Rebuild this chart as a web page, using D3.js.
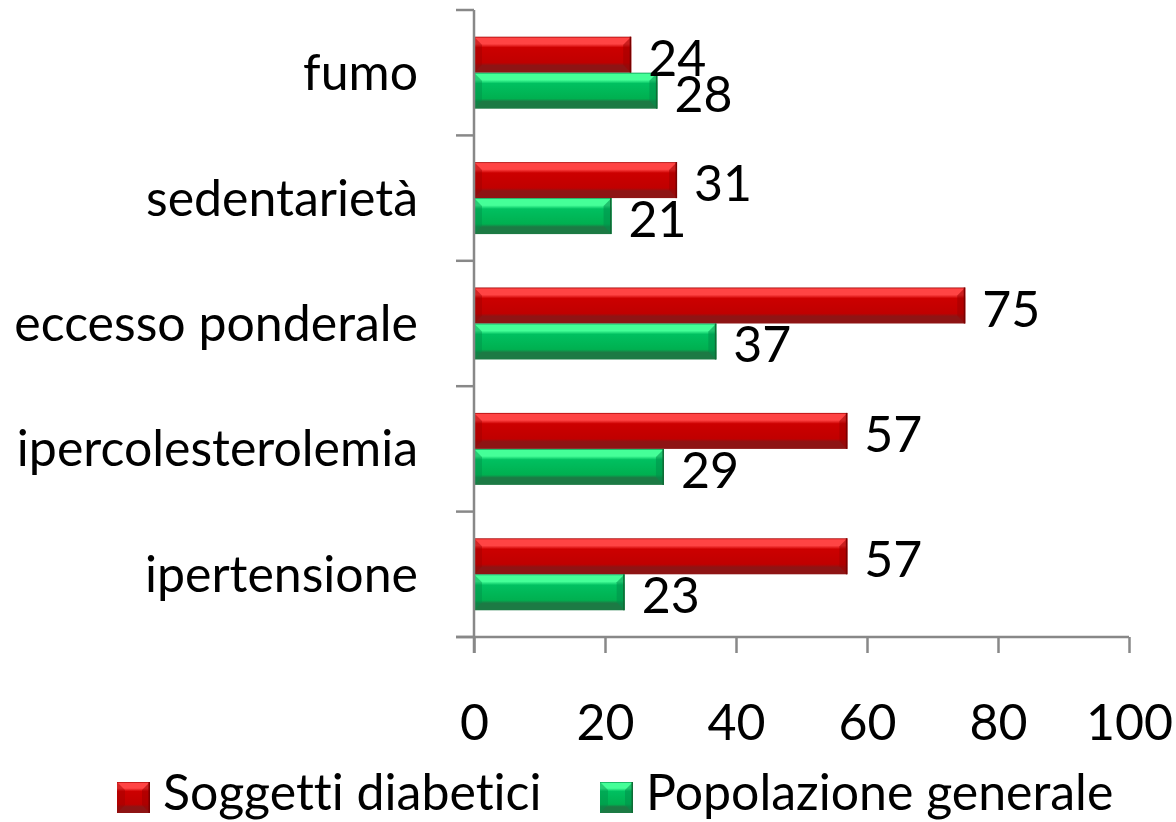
<!DOCTYPE html>
<html>
<head>
<meta charset="utf-8">
<script src="https://cdn.jsdelivr.net/npm/d3@7/dist/d3.min.js"></script>
<style>
  html, body { margin: 0; padding: 0; background: #ffffff; }
  svg { display: block; }
  text { font-family: Lato, "Noto Sans", sans-serif; fill: #000; font-variant-ligatures: none; font-feature-settings: "liga" 0; }
</style>
</head>
<body>
<svg id="chart" width="1176" height="822"></svg>
<script>
// Risk factors, top to bottom
const categories = ["fumo", "sedentarietà", "eccesso ponderale", "ipercolesterolemia", "ipertensione"];
const seriesNames = ["Soggetti diabetici", "Popolazione generale"];
const diabetici = [24, 31, 75, 57, 57];
const popolazione = [28, 21, 37, 29, 23];
const xTicks = [0, 20, 40, 60, 80, 100];

const seriesValues = [diabetici, popolazione];
const palette = [
  { top: "#ff4444", mid: "#cc0000", low: "#c00000", bottom: "#8e1414", edge: "#7a0000", dark: "#a00000" },
  { top: "#45ff98", mid: "#00c060", low: "#00b050", bottom: "#1c7a44", edge: "#0f6b35", dark: "#00904a" }
];

const svg = d3.select("#chart");
const axisColor = "#888888";
const fontSize = 50;

const x = d3.scaleLinear().domain([0, 100]).range([474, 1129]);
const y = d3.scaleBand().domain(categories).range([10, 637]).paddingInner(0.426).paddingOuter(0.213);
const ySeries = d3.scaleBand().domain(seriesNames).range([0, y.bandwidth()]);

// Vertical gradients giving the bars their bevelled look
const defs = svg.append("defs");
palette.forEach((p, i) => {
  const g = defs.append("linearGradient").attr("id", "grad" + i)
    .attr("x1", 0).attr("y1", 0).attr("x2", 0).attr("y2", 1);
  [[0, p.dark], [0.04, p.top], [0.2, p.top], [0.3, p.mid], [0.72, p.low], [0.8, p.bottom], [1, p.bottom]]
    .forEach(([o, c]) => g.append("stop").attr("offset", o).attr("stop-color", c));
});

function bevelBar(sel, x0, y0, w, h, i) {
  const p = palette[i];
  const b = Math.min(8, w / 2, h / 3);
  sel.append("rect").attr("x", x0).attr("y", y0).attr("width", w).attr("height", h)
    .attr("fill", `url(#grad${i})`);
  // right end facet
  sel.append("path")
    .attr("d", `M${x0 + w - b},${y0 + b} L${x0 + w},${y0} L${x0 + w},${y0 + h} L${x0 + w - b},${y0 + h - b} Z`)
    .attr("fill", p.dark).attr("opacity", 0.55);
  // left end facet
  sel.append("path")
    .attr("d", `M${x0},${y0} L${x0 + b},${y0 + b} L${x0 + b},${y0 + h - b} L${x0},${y0 + h} Z`)
    .attr("fill", p.dark).attr("opacity", 0.45);
  sel.append("line").attr("x1", x0 + w - 0.75).attr("x2", x0 + w - 0.75)
    .attr("y1", y0).attr("y2", y0 + h).attr("stroke", p.edge).attr("stroke-width", 1.5);
}

// Bars
const groups = svg.append("g").selectAll("g").data(categories).join("g")
  .attr("transform", d => `translate(0,${y(d)})`);

groups.each(function(cat, ci) {
  const g = d3.select(this);
  seriesNames.forEach((s, si) => {
    const v = seriesValues[si][ci];
    bevelBar(g, x(0), ySeries(s), x(v) - x(0), ySeries.bandwidth(), si);
  });
});

// Axes
const xAxis = d3.axisBottom(x).tickValues(xTicks).tickSize(16).tickPadding(51).tickSizeOuter(0);
const gx = svg.append("g").attr("transform", "translate(0,637)").call(xAxis);
gx.select(".domain").remove();
gx.append("line").attr("x1", 456).attr("x2", x(100)).attr("y1", 0).attr("y2", 0)
  .attr("stroke", axisColor).attr("stroke-width", 2.5);
gx.selectAll(".tick line").attr("stroke", axisColor).attr("stroke-width", 2.5);
gx.selectAll(".tick text").attr("font-size", fontSize).attr("dy", "0.71em")
  .style("font-family", "Lato, 'Noto Sans', sans-serif").attr("fill", "#000");

// Category axis: vertical line plus ticks at band boundaries
const boundaries = categories.map(c => y(c) - y.step() * y.paddingInner() / 2).concat([637]);
boundaries[0] = 10;
const gy = svg.append("g");
gy.append("line").attr("x1", x(0)).attr("x2", x(0)).attr("y1", 10).attr("y2", 653)
  .attr("stroke", axisColor).attr("stroke-width", 2.5);
gy.selectAll("line.t").data(boundaries).join("line").attr("class", "t")
  .attr("x1", 456).attr("x2", x(0)).attr("y1", d => d).attr("y2", d => d)
  .attr("stroke", axisColor).attr("stroke-width", 2.5);
gy.selectAll("text").data(categories).join("text")
  .attr("x", 418).attr("y", d => y(d) + y.bandwidth() / 2).attr("dy", "0.35em")
  .attr("text-anchor", "end").attr("font-size", fontSize).text(d => d);

// Value labels
groups.each(function(cat, ci) {
  const g = d3.select(this);
  seriesNames.forEach((s, si) => {
    const v = seriesValues[si][ci];
    g.append("text").attr("x", x(v) + 17).attr("y", ySeries(s) + ySeries.bandwidth() / 2 + 3)
      .attr("dy", "0.36em").attr("font-size", fontSize).text(v);
  });
});

// Legend
const legendPos = [117, 600];
const legend = svg.append("g").selectAll("g").data(seriesNames).join("g")
  .attr("transform", (d, i) => `translate(${legendPos[i]},782)`);
legend.each(function(s, i) {
  bevelBar(d3.select(this), 0, 0, 33, 31, i);
});
legend.append("text").attr("x", 46).attr("y", 28).attr("font-size", fontSize).text(d => d);
</script>
</body>
</html>
